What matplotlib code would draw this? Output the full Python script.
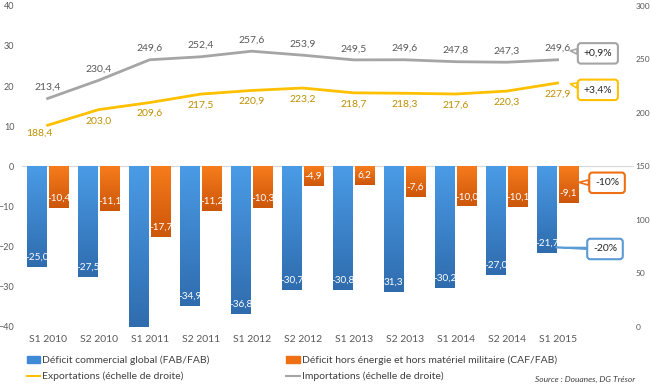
"""
Balance commerciale semestrielle : deficits (barres) et echanges (lignes)
"""

import matplotlib
matplotlib.use("Agg")
import matplotlib.pyplot as plt
import numpy as np
from matplotlib.colors import LinearSegmentedColormap
from matplotlib.lines import Line2D
from matplotlib.patches import Patch

plt.rcParams["font.family"] = ["Lato", "DejaVu Sans"]

semesters = ["S1 2010", "S2 2010", "S1 2011", "S2 2011", "S1 2012", "S2 2012",
             "S1 2013", "S2 2013", "S1 2014", "S2 2014", "S1 2015"]
deficit_global = [-25.0, -27.5, -40.0, -34.9, -36.8, -30.7, -30.8, -31.3, -30.2, -27.0, -21.7]
deficit_global_labels = ["-25,0", "-27,5", "", "-34,9", "-36,8", "-30,7", "-30,8", "31,3",
                         "-30,2", "-27,0", "-21,7"]
deficit_hors = [-10.4, -11.1, -17.7, -11.2, -10.3, -4.9, -4.6, -7.6, -10.0, -10.1, -9.1]
deficit_hors_labels = ["-10,4", "-11,1", "-17,7", "-11,2", "-10,3", "-4,9", "6,2", "-7,6",
                       "-10,0", "-10,1", "-9,1"]
exportations = [188.4, 203.0, 209.6, 217.5, 220.9, 223.2, 218.7, 218.3, 217.6, 220.3, 227.9]
importations = [213.4, 230.4, 249.6, 252.4, 257.6, 253.9, 249.5, 249.6, 247.8, 247.3, 249.6]

BLUE = "#3F8AD6"
ORANGE = "#EE6F14"
YELLOW = "#FFC000"
GREY = "#A5A5A5"
TXT = "#595959"

blue_cmap = LinearSegmentedColormap.from_list("b", ["#4A9BE6", "#2F6CAE"])
orange_cmap = LinearSegmentedColormap.from_list("o", ["#F77C1C", "#CC560A"])

fig = plt.figure(figsize=(6.51, 3.90), dpi=100)
ax = fig.add_axes([0.034, 0.162, 0.940, 0.823])
ax2 = ax.twinx()

x = np.arange(len(semesters))
w = 0.39
off = 0.215


def gradient_bars(xs, vals, cmap):
    grad = np.linspace(0, 1, 256).reshape(-1, 1)
    bars = ax.bar(xs, vals, w, color=cmap(0.5), zorder=2)
    for b, xi, v in zip(bars, xs, vals):
        im = ax.imshow(grad, cmap=cmap, aspect="auto", zorder=2.1,
                       extent=[xi - w / 2, xi + w / 2, v, 0])
        im.set_clip_path(b)
    return bars


gradient_bars(x - off, deficit_global, blue_cmap)
gradient_bars(x + off, deficit_hors, orange_cmap)

for xi, v, lab in zip(x - off, deficit_global, deficit_global_labels):
    ax.annotate(lab, (xi, v), xytext=(0, 7), textcoords="offset points",
                ha="center", va="center", color="white", fontsize=7.2, zorder=5)
for xi, v, lab in zip(x + off, deficit_hors, deficit_hors_labels):
    ax.annotate(lab, (xi, v), xytext=(0, 7), textcoords="offset points",
                ha="center", va="center", color="white", fontsize=7.2, zorder=5)

ax.axhline(0, color="#D9D9D9", lw=0.8, zorder=1)
ax.set_xlim(-0.5, 11.5)
ax.set_ylim(-40, 40)
ax.set_yticks(range(-40, 41, 10))
ax.set_xticks(x)
ax.set_xticklabels(semesters)
ax.tick_params(axis="y", length=0, pad=5.5, labelsize=6.5, labelcolor=TXT)
ax.tick_params(axis="x", length=0, pad=6, labelsize=7.5, labelcolor=TXT)

# lignes (echelle de droite)
ax2.plot(x, importations, color=GREY, lw=2, zorder=3)
ax2.plot(x, exportations, color=YELLOW, lw=2, zorder=3)
for xi, v in zip(x, importations):
    ax2.annotate(f"{v:.1f}".replace(".", ","), (xi, v), xytext=(0, 8),
                 textcoords="offset points", ha="center", va="center",
                 color=TXT, fontsize=7.5)
for i, (xi, v) in enumerate(zip(x, exportations)):
    dx, dy = (-6, -6) if i == 0 else (0, -8)
    ax2.annotate(f"{v:.1f}".replace(".", ","), (xi, v), xytext=(dx, dy),
                 textcoords="offset points", ha="center", va="center",
                 color="#BF9000", fontsize=7.5)
ax2.set_ylim(0, 300)
ax2.set_yticks(range(0, 301, 50))
ax2.tick_params(axis="y", length=0, pad=1, labelsize=6, labelcolor=TXT)

for a in (ax, ax2):
    for s in a.spines.values():
        s.set_visible(False)

# bulles d'evolution
callouts = [
    (ax2, "+0,9%", (10.25, 258), (10.79, 255.6), GREY, 0.5),
    (ax2, "+3,4%", (10.25, 227), (10.79, 221.5), YELLOW, 0.5),
    (ax, "-10%", (10.42, -4.0), (10.97, -4.1), ORANGE, 0.5),
    (ax, "-20%", (9.97, -20.2), (10.93, -20.6), "#5B9BD5", 0.15),
]
for a, txt, tip, pos, col, tw in callouts:
    a.annotate(txt, tip, xytext=pos, textcoords="data", ha="center", va="center",
               fontsize=7.5, color="#262626", zorder=6,
               bbox=dict(boxstyle="round,pad=0.55,rounding_size=0.3", fc="white",
                         ec=col, lw=1.5),
               arrowprops=dict(arrowstyle=f"wedge,tail_width={tw},shrink_factor=0.5",
                               fc="white", ec=col, lw=1.2,
                               shrinkA=0, shrinkB=0))

# legende
h1 = [Patch(color=BLUE, label="Déficit commercial global (FAB/FAB)"),
      Line2D([], [], color=YELLOW, lw=1.5, label="Exportations (échelle de droite)")]
h2 = [Patch(color=ORANGE, label="Déficit hors énergie et hors matériel militaire (CAF/FAB)"),
      Line2D([], [], color=GREY, lw=1.5, label="Importations (échelle de droite)")]
for hs, x0 in ((h1, 0.041), (h2, 0.440)):
    fig.legend(handles=hs, loc="upper left", bbox_to_anchor=(x0, 0.088), frameon=False,
               fontsize=7.5, labelcolor="#404040", handlelength=1.3, handleheight=0.55,
               handletextpad=0.15, labelspacing=0.6, borderpad=0, borderaxespad=0)

fig.text(0.975, 0.028, "Source : Douanes, DG Trésor", ha="right", va="center",
         fontsize=6, style="italic", color="#404040")

fig.savefig("out.png", dpi=100)
